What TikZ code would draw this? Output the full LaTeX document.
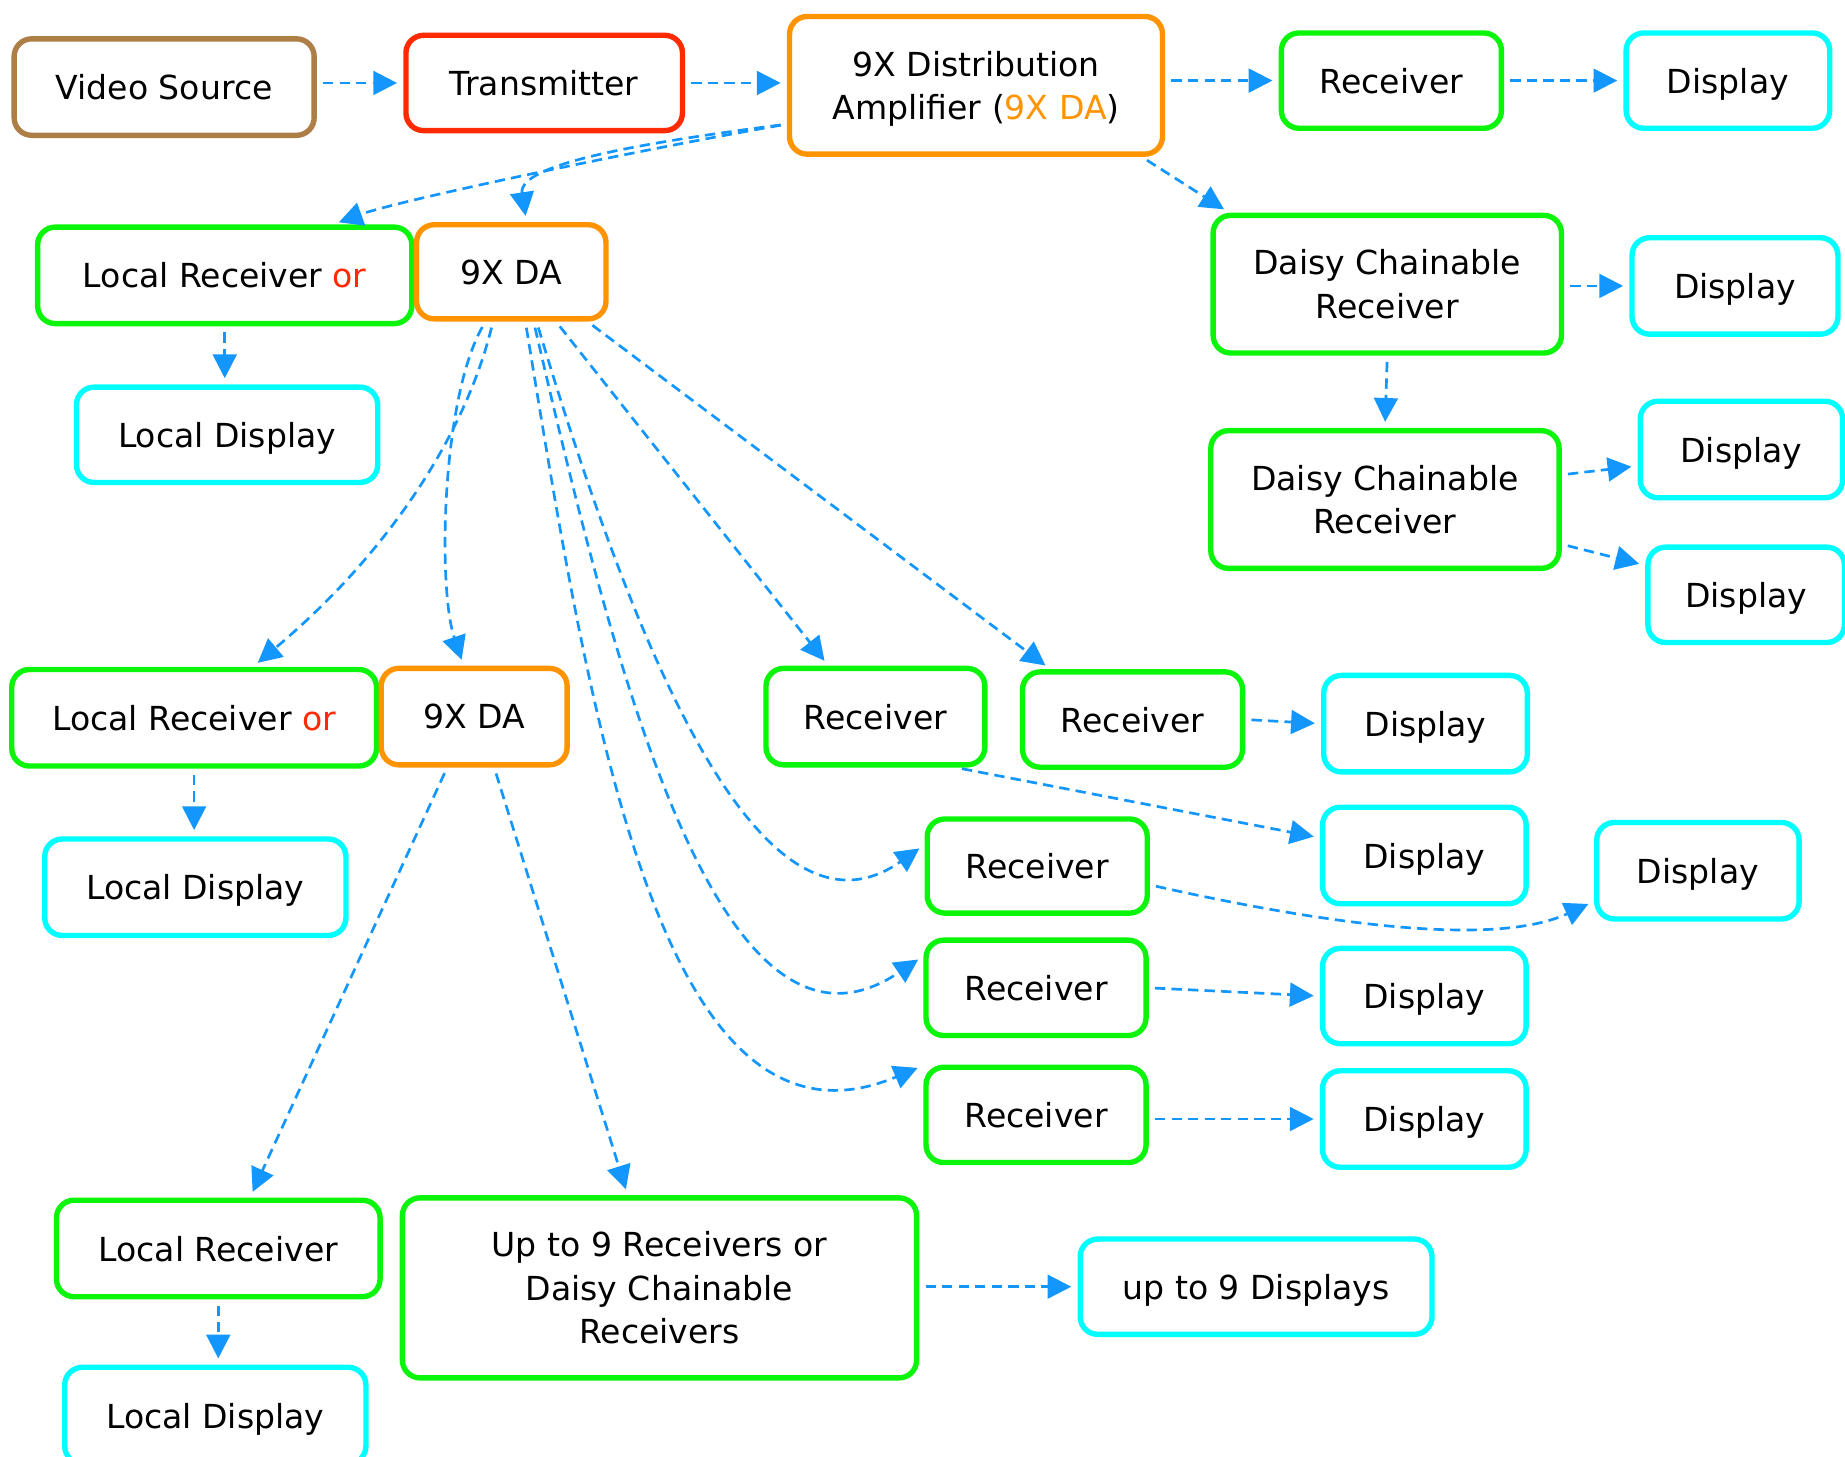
\documentclass[tikz,border=0pt]{standalone}
\usepackage{fontspec}
\setmainfont{DejaVu Sans}
\usetikzlibrary{arrows.meta,calc}
\definecolor{cbrown}{RGB}{174,126,71}
\definecolor{cred}{RGB}{255,42,0}
\definecolor{corange}{RGB}{255,148,0}
\definecolor{cgreen}{RGB}{10,245,10}
\definecolor{ccyan}{RGB}{0,255,255}
\definecolor{cblue}{RGB}{20,150,255}
\begin{document}
\begin{tikzpicture}[x=0.02cm,y=-0.02cm,
  box/.style={draw, line width=2.6pt, rounded corners=0.3cm, fill=white, align=center,
    inner sep=0pt, font=\fontsize{16}{21}\selectfont},
  sl/.style={text depth=0pt},
  sz/.style 2 args={minimum width={#1*0.02cm}, minimum height={#2*0.02cm}},
  brbox/.style={box, draw=cbrown},
  rbox/.style={box, draw=cred},
  obox/.style={box, draw=corange},
  gbox/.style={box, draw=cgreen},
  cbox/.style={box, draw=ccyan},
  arr/.style={draw=cblue, line width=1.3pt, dash pattern=on 5pt off 3pt,
    -{Triangle[length=11.5pt,width=11.5pt]}, shorten <=3pt, shorten >=3pt}]
\useasboundingbox (0,0) rectangle (1568,1237.4);
% top row
\node[brbox, sl, sz={255}{82}] (vs) at (139.5,74) {Video Source};
\node[rbox, sl, sz={235}{81}] (tx) at (462.5,70.5) {Transmitter};
\node[obox, sz={317}{117}] (da) at (829.5,72.5) {9X Distribution\\\raisebox{0pt}[\height][0pt]{Amplifier (\textcolor{corange}{9X DA})}};
\node[gbox, sl, sz={187}{81}] (r0) at (1182.5,68.5) {Receiver};
\node[cbox, sl, sz={173}{81}] (d0) at (1468.5,68.5) {Display};
% second level
\node[gbox, sl, sz={318}{82}] (lr1) at (191,234) {Local Receiver \textcolor{cred}{or}};
\node[obox, sl, sz={161}{80}] (da1) at (434.5,231) {9X DA};
\node[cbox, sl, sz={256}{81}] (ld1) at (193,369.5) {Local Display};
\node[gbox, sz={296}{117}] (dc1) at (1179,241.5) {Daisy Chainable\\Receiver};
\node[cbox, sl, sz={175}{82}] (dd1) at (1474.5,243) {Display};
\node[gbox, sz={296}{117}] (dc2) at (1177,424.5) {Daisy Chainable\\Receiver};
\node[cbox, sl, sz={172}{82}] (dd2) at (1480,382) {Display};
\node[cbox, sl, sz={167}{81}] (dd3) at (1484,505.5) {Display};
% third level
\node[gbox, sl, sz={310}{82}] (lr2) at (165,610) {Local Receiver \textcolor{cred}{or}};
\node[obox, sl, sz={158}{82}] (da2) at (403,609) {9X DA};
\node[gbox, sl, sz={186}{82}] (r1) at (744,609) {Receiver};
\node[gbox, sl, sz={187}{81}] (r2) at (962.5,611.5) {Receiver};
\node[cbox, sl, sz={173}{82}] (d2) at (1211.5,615) {Display};
\node[cbox, sl, sz={256}{82}] (ld2) at (166,754) {Local Display};
\node[gbox, sl, sz={187}{80}] (r3) at (881.5,736) {Receiver};
\node[cbox, sl, sz={173}{82}] (d3) at (1210.5,727) {Display};
\node[cbox, sl, sz={172}{82}] (d4) at (1443,740) {Display};
\node[gbox, sl, sz={187}{81}] (r4) at (880.5,839.5) {Receiver};
\node[cbox, sl, sz={173}{81}] (d5) at (1210.5,846.5) {Display};
\node[gbox, sl, sz={187}{81}] (r5) at (880.5,947.5) {Receiver};
\node[cbox, sl, sz={173}{82}] (d6) at (1210.5,951) {Display};
% bottom
\node[gbox, sl, sz={275}{82}] (lr3) at (185.5,1061) {Local Receiver};
\node[gbox, sz={437}{153}] (up) at (560.5,1094.5) {Up to 9 Receivers or\\Daisy Chainable\\Receivers};
\node[cbox, sl, sz={299}{81}] (upd) at (1067.5,1093.5) {up to 9 Displays};
\node[cbox, sl, sz={256}{82}] (ld3) at (183,1203) {Local Display};
% connectors
\draw[arr] (vs.east |- tx.west) -- (tx.west);
\draw[arr] (tx.east) -- (tx.east -| da.west);
\draw[arr] (da.east |- r0.west) -- (r0.west);
\draw[arr] (r0.east) -- (d0.west);
\draw[arr] ($(da.south east)+(-20,0)$) -- ($(dc1.north west)+(16,0)$);
\draw[arr] (dc1.east |- dd1.west) -- (dd1.west);
\draw[arr] (dc1.south) -- (dc2.north);
\draw[arr] ($(dc2.east)+(0,-21)$) -- ($(dd2.west)+(0,14)$);
\draw[arr] ($(dc2.east)+(0,38)$) -- ($(dd3.west)+(0,-25)$);
\draw[arr] ($(da.west)+(0,33)$) .. controls (540,128) and (340,170) .. ($(lr1.north)+(92,0)$);
\draw[arr] ($(da.west)+(0,33)$) .. controls (540,122) and (440,140) .. ($(da1.north)+(13,0)$);
\draw[arr] (lr1.south) -- (lr1.south |- ld1.north);
\draw[arr] ($(da1.south)+(-15.5,0)$) .. controls (395,370) and (330,470) .. ($(lr2.north)+(50,0)$);
\draw[arr] ($(da1.south)+(-22,0)$) .. controls (375,340) and (372,500) .. ($(da2.north)+(-9,0)$);
\draw[arr] ($(da1.south)+(38,0)$) -- ($(r1.north)+(-40,0)$);
\draw[arr] ($(da1.south east)+(-18,0)$) -- ($(r2.north west)+(26,0)$);
\draw[arr] ($(da1.south)+(21.5,0)$) .. controls (530,520) and (640,820) .. ($(r3.west)+(0,-18)$);
\draw[arr] ($(da1.south)+(19,0)$) .. controls (520,560) and (610,930) .. ($(r4.west)+(0,-27)$);
\draw[arr] ($(da1.south)+(12,0)$) .. controls (500,600) and (560,1000) .. ($(r5.west)+(0,-42)$);
\draw[arr] (lr2.south) -- (lr2.south |- ld2.north);
\draw[arr] ($(da2.south)+(-23,0)$) -- ($(lr3.north)+(27,0)$);
\draw[arr] ($(da2.south)+(17,0)$) -- ($(up.north)+(-27,0)$);
\draw[arr] ($(r1.south east)+(-27,0)$) -- ($(d3.west)+(0,-15)$);
\draw[arr] (r2.east) -- (d2.west);
\draw[arr] ($(r3.east)+(0,16)$) .. controls (1080,775) and (1260,810) .. ($(d4.west)+(0,26)$);
\draw[arr] (r4.east) -- (d5.west);
\draw[arr] (r5.east |- d6.west) -- (d6.west);
\draw[arr] (lr3.south) -- (lr3.south |- ld3.north);
\draw[arr] (up.east |- upd.west) -- (upd.west);
\end{tikzpicture}
\end{document}
